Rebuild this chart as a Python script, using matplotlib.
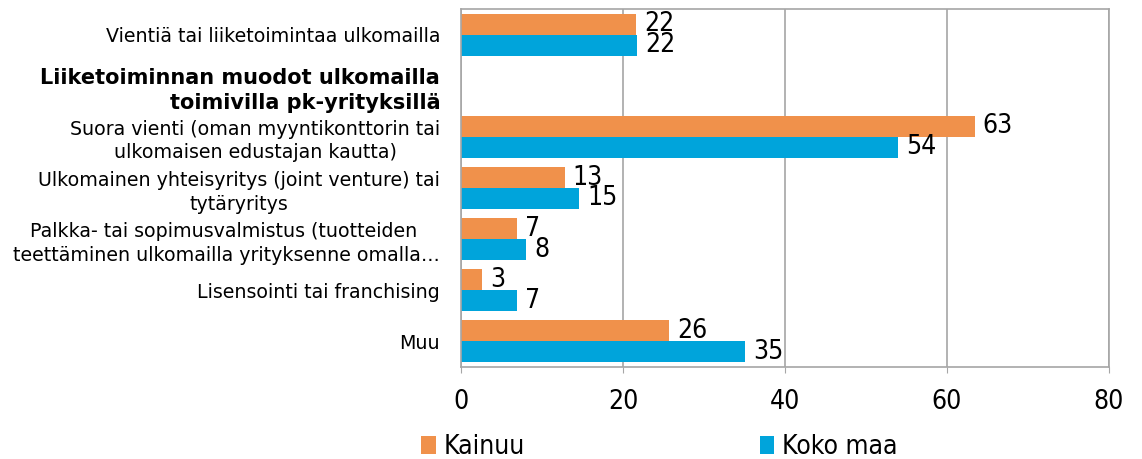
import matplotlib
matplotlib.use("Agg")
import matplotlib.pyplot as plt
import numpy as np

# data
categories = [
    "Vientiä tai liiketoimintaa ulkomailla",
    "Liiketoiminnan muodot ulkomailla\ntoimivilla pk-yrityksillä",
    "Suora vienti (oman myyntikonttorin tai\nulkomaisen edustajan kautta)",
    "Ulkomainen yhteisyritys (joint venture) tai\ntytäryritys",
    "Palkka- tai sopimusvalmistus (tuotteiden \nteettäminen ulkomailla yrityksenne omalla…",
    "Lisensointi tai franchising",
    "Muu",
]
header_index = 1
kainuu = [21.6, np.nan, 63.4, 12.8, 6.9, 2.6, 25.7]
koko_maa = [21.7, np.nan, 54.0, 14.6, 8.0, 6.9, 35.1]
series_names = ["Kainuu", "Koko maa"]
x_ticks = [0, 20, 40, 60, 80]

orange = "#F0914B"
blue = "#00A4DB"
grid_col = "#A6A6A6"
num_font = dict(family="DejaVu Sans", stretch="condensed", size=19)

fig = plt.figure(figsize=(11.42, 4.59), dpi=100)
ax = fig.add_axes([0.4037, 0.2011, 0.5674, 0.7786])

y = np.arange(len(categories))
h = 0.41
b1 = ax.barh(y - h / 2, kainuu, height=h, color=orange, label=series_names[0])
b2 = ax.barh(y + h / 2, koko_maa, height=h, color=blue, label=series_names[1])

# value labels
for bars, vals in ((b1, kainuu), (b2, koko_maa)):
    for rect, v in zip(bars, vals):
        if np.isnan(v):
            continue
        ax.text(v + 1.0, rect.get_y() + rect.get_height() / 2, f"{v:.0f}",
                ha="left", va="center", **num_font)

ax.set_xlim(0, 80)
ax.set_ylim(len(categories) - 0.5, -0.5)
ax.set_xticks(x_ticks)
ax.set_xticklabels([str(t) for t in x_ticks], **num_font)
ax.tick_params(axis="x", length=4, color=grid_col, pad=12)
ax.set_yticks(y)
ax.set_yticklabels(categories, fontsize=13.7, linespacing=1.3)
ax.tick_params(axis="y", length=0, pad=15)
for i, lab in enumerate(ax.get_yticklabels()):
    if i == header_index:
        lab.set_fontweight("bold")
        lab.set_fontsize(15)
        lab.set_multialignment("right")
        lab.set_y(y[i] - 0.12)
    else:
        lab.set_multialignment("center")

ax.xaxis.grid(True, color=grid_col, linewidth=1.2)
ax.set_axisbelow(True)
for s in ax.spines.values():
    s.set_color(grid_col)
    s.set_linewidth(1.2)

leg = fig.legend(handles=[b1, b2], labels=series_names, loc="center",
                 bbox_to_anchor=(0.5775, 0.026), ncol=2, frameon=False,
                 handlelength=0.55, handleheight=0.7, handletextpad=0.3,
                 columnspacing=8.9, prop=num_font)

fig.savefig("out.png", dpi=100)
